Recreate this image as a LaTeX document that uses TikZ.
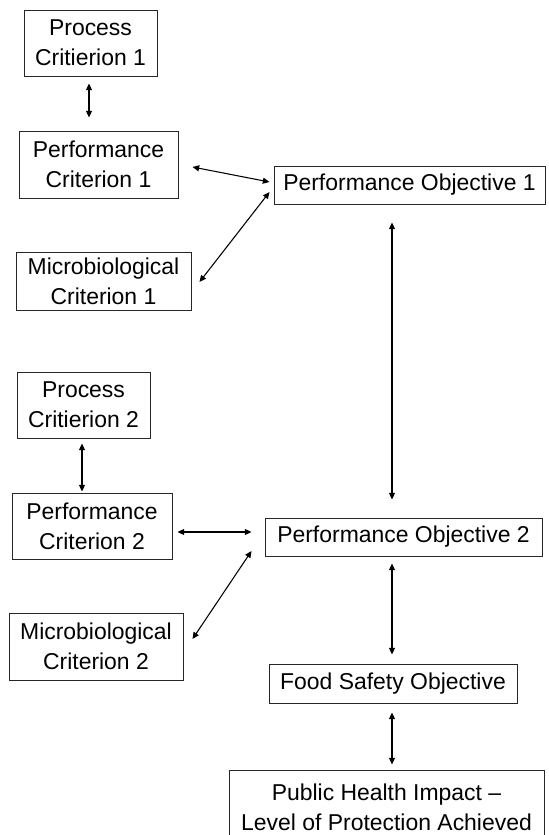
\documentclass[tikz,border=0pt]{standalone}
\usepackage{fontspec}
\setmainfont{Liberation Sans}
\usetikzlibrary{calc,arrows.meta}
\begin{document}
\begin{tikzpicture}[x=0.75pt,y=-0.75pt,
  box/.style={draw=black!85,line width=0.75pt,align=center,inner sep=0pt,
    font=\fontsize{17.2}{22.5}\selectfont},
  arr/.style={line width=0.8pt,{Triangle[length=5pt,width=4.5pt]}-{Triangle[length=5pt,width=4.5pt]}}]
\useasboundingbox (0,0) rectangle (549,835);
\clip (0,0) rectangle (549,835);
\node[box,minimum width=133*0.75pt,minimum height=66*0.75pt] (pc1) at (90.5,43) {Process\\Critierion 1};
\node[box,minimum width=159*0.75pt,minimum height=67*0.75pt] (perf1) at (98.5,164.5) {Performance\\Criterion 1};
\node[box,minimum width=175*0.75pt,minimum height=58*0.75pt] (micro1) at (103.5,281) {Microbiological\\Criterion 1};
\node[box,minimum width=271*0.75pt,minimum height=38*0.75pt] (po1) at (409.5,185) {Performance Objective 1};
\node[box,minimum width=133*0.75pt,minimum height=66*0.75pt] (pc2) at (83.5,405) {Process\\Critierion 2};
\node[box,minimum width=160*0.75pt,minimum height=66*0.75pt] (perf2) at (92,526) {Performance\\Criterion 2};
\node[box,minimum width=174*0.75pt,minimum height=67*0.75pt] (micro2) at (96,646.5) {Microbiological\\Criterion 2};
\node[box,minimum width=277*0.75pt,minimum height=38*0.75pt] (po2) at (403.5,537) {Performance Objective 2};
\node[box,minimum width=248*0.75pt,minimum height=39*0.75pt] (fso) at (393,683.5) {Food Safety Objective};
\node[box,minimum width=315*0.75pt,minimum height=74*0.75pt] (phi) at (386.5,807) {Public Health Impact --\\Level of Protection Achieved};

\draw[arr] ($(pc1.south)+(-1.5,7)$) -- ($(perf1.north)+(-9.5,-13)$);
\draw[arr] ($(perf1.east)+(14,2.5)$) -- ($(po1.west)+(-4,-3)$);
\draw[arr] ($(micro1.east)+(8,1)$) -- ($(po1.west)+(-4,7)$);
\draw[arr] ($(po1.south)+(-17.5,18)$) -- ($(po2.north)+(-11.5,-18)$);
\draw[arr] ($(pc2.south)+(-1.5,5)$) -- ($(perf2.north)+(-10,-1)$);
\draw[arr] ($(perf2.east)+(5,6)$) -- ($(po2.west)+(-13,-5)$);
\draw[arr] ($(micro2.east)+(9,-7.5)$) -- ($(po2.west)+(-13,14)$);
\draw[arr] ($(po2.south)+(-11.5,7)$) -- ($(fso.north)+(-1,-9)$);
\draw[arr] ($(fso.south)+(-1,9)$) -- ($(phi.north)+(5.5,-5)$);
\end{tikzpicture}
\end{document}
